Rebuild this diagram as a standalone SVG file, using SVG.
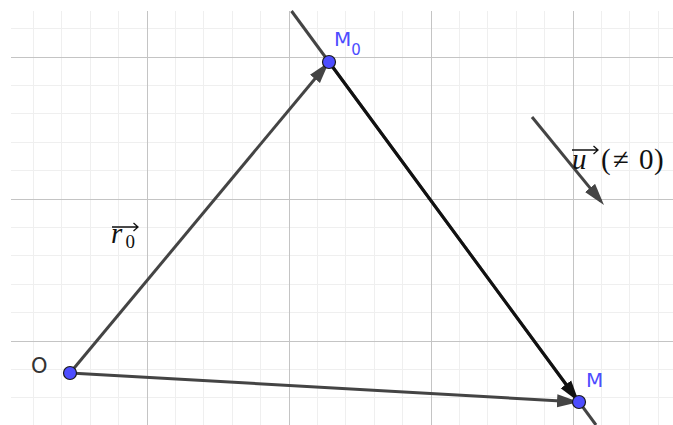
<svg xmlns="http://www.w3.org/2000/svg" width="673" height="425" viewBox="0 0 673 425">
<style>
.minor{stroke:#efefef;stroke-width:1}
.major{stroke:#c4c4c4;stroke-width:1}
.vec{stroke:#444444;stroke-width:3;fill:none}
.vecb{stroke:#111111;stroke-width:3;fill:none}
.ln{stroke:#444444;stroke-width:3;fill:none}
.pt{fill:#4d4dff;stroke:#1a1a1a;stroke-width:1.2}
.lbl{font-family:"DejaVu Sans","Liberation Sans",sans-serif;font-size:20px;fill:#4d4dff}
.lblk{font-family:"DejaVu Sans","Liberation Sans",sans-serif;font-size:21px;fill:#333333}
.math{font-family:"Liberation Serif","DejaVu Serif",serif;fill:#111111}
.ovr{stroke:#111111;stroke-width:1.3;fill:none}
</style>
<defs>
<marker id="ah" viewBox="-17 -7 22 14" refX="0" refY="0" markerWidth="22" markerHeight="14" markerUnits="userSpaceOnUse" orient="auto">
<path d="M5,0 L-17,-6.5 L-17,6.5 Z" fill="#444444"/>
</marker>
<marker id="ahb" viewBox="-17 -7 22 14" refX="0" refY="0" markerWidth="22" markerHeight="14" markerUnits="userSpaceOnUse" orient="auto">
<path d="M5,0 L-17,-6.5 L-17,6.5 Z" fill="#111111"/>
</marker>
</defs>
<rect width="673" height="425" fill="#ffffff"/>
<g id="grid">
<g class="minor">
<line x1="33.5" y1="11" x2="33.5" y2="425"/>
<line x1="61.5" y1="11" x2="61.5" y2="425"/>
<line x1="90.5" y1="11" x2="90.5" y2="425"/>
<line x1="118.5" y1="11" x2="118.5" y2="425"/>
<line x1="175.5" y1="11" x2="175.5" y2="425"/>
<line x1="203.5" y1="11" x2="203.5" y2="425"/>
<line x1="232.5" y1="11" x2="232.5" y2="425"/>
<line x1="260.5" y1="11" x2="260.5" y2="425"/>
<line x1="317.5" y1="11" x2="317.5" y2="425"/>
<line x1="345.5" y1="11" x2="345.5" y2="425"/>
<line x1="374.5" y1="11" x2="374.5" y2="425"/>
<line x1="402.5" y1="11" x2="402.5" y2="425"/>
<line x1="459.5" y1="11" x2="459.5" y2="425"/>
<line x1="487.5" y1="11" x2="487.5" y2="425"/>
<line x1="516.5" y1="11" x2="516.5" y2="425"/>
<line x1="544.5" y1="11" x2="544.5" y2="425"/>
<line x1="601.5" y1="11" x2="601.5" y2="425"/>
<line x1="629.5" y1="11" x2="629.5" y2="425"/>
<line x1="658.5" y1="11" x2="658.5" y2="425"/>
<line x1="11" y1="28.5" x2="673" y2="28.5"/>
<line x1="11" y1="85.5" x2="673" y2="85.5"/>
<line x1="11" y1="113.5" x2="673" y2="113.5"/>
<line x1="11" y1="142.5" x2="673" y2="142.5"/>
<line x1="11" y1="170.5" x2="673" y2="170.5"/>
<line x1="11" y1="227.5" x2="673" y2="227.5"/>
<line x1="11" y1="255.5" x2="673" y2="255.5"/>
<line x1="11" y1="284.5" x2="673" y2="284.5"/>
<line x1="11" y1="312.5" x2="673" y2="312.5"/>
<line x1="11" y1="369.5" x2="673" y2="369.5"/>
<line x1="11" y1="397.5" x2="673" y2="397.5"/>
</g>
<g class="major">
<line x1="147.5" y1="11" x2="147.5" y2="425"/>
<line x1="289.5" y1="11" x2="289.5" y2="425"/>
<line x1="431.5" y1="11" x2="431.5" y2="425"/>
<line x1="573.5" y1="11" x2="573.5" y2="425"/>
<line x1="11" y1="57.5" x2="673" y2="57.5"/>
<line x1="11" y1="199.5" x2="673" y2="199.5"/>
<line x1="11" y1="341.5" x2="673" y2="341.5"/>
</g>
</g>
<g id="connectors">
<line id="line-M0M" class="ln" x1="291.5" y1="11" x2="596" y2="425"/>
<line id="vec-OM0" class="vec" x1="70" y1="373" x2="325.8" y2="65.8" marker-end="url(#ah)"/>
<line id="vec-M0M" class="vecb" x1="329" y1="62" x2="576" y2="398" marker-end="url(#ahb)"/>
<line id="vec-OM" class="vec" x1="70" y1="373" x2="574" y2="401.7" marker-end="url(#ah)"/>
<line id="vec-u" class="vec" x1="532" y1="117" x2="600.8" y2="201.1" marker-end="url(#ah)"/>
</g>
<g id="node-O">
<circle class="pt" cx="70" cy="373" r="6.5"/>
<text class="lblk" x="31" y="373">O</text>
</g>
<g id="node-M0">
<circle class="pt" cx="329" cy="62" r="6.5"/>
<text class="lbl" x="334" y="46">M<tspan font-size="15" dy="9">0</tspan></text>
</g>
<g id="node-M">
<circle class="pt" cx="579" cy="402" r="6.5"/>
<text class="lbl" x="586" y="387">M</text>
</g>
<g id="label-r0">
<path class="ovr" d="M112,227 H138 M133.5,223 L138,227 L133.5,231"/>
<text class="math" x="111" y="243" font-size="29" font-style="italic">r</text>
<text class="math" x="125.5" y="248" font-size="19">0</text>
</g>
<g id="label-u">
<path class="ovr" d="M572,150 H598 M593.5,146 L598,150 L593.5,154"/>
<text class="math" x="572" y="169" font-size="29" font-style="italic">u</text>
<text class="math" y="169" font-size="29" x="601 613 639 654">(≠0)</text>
</g>
</svg>
